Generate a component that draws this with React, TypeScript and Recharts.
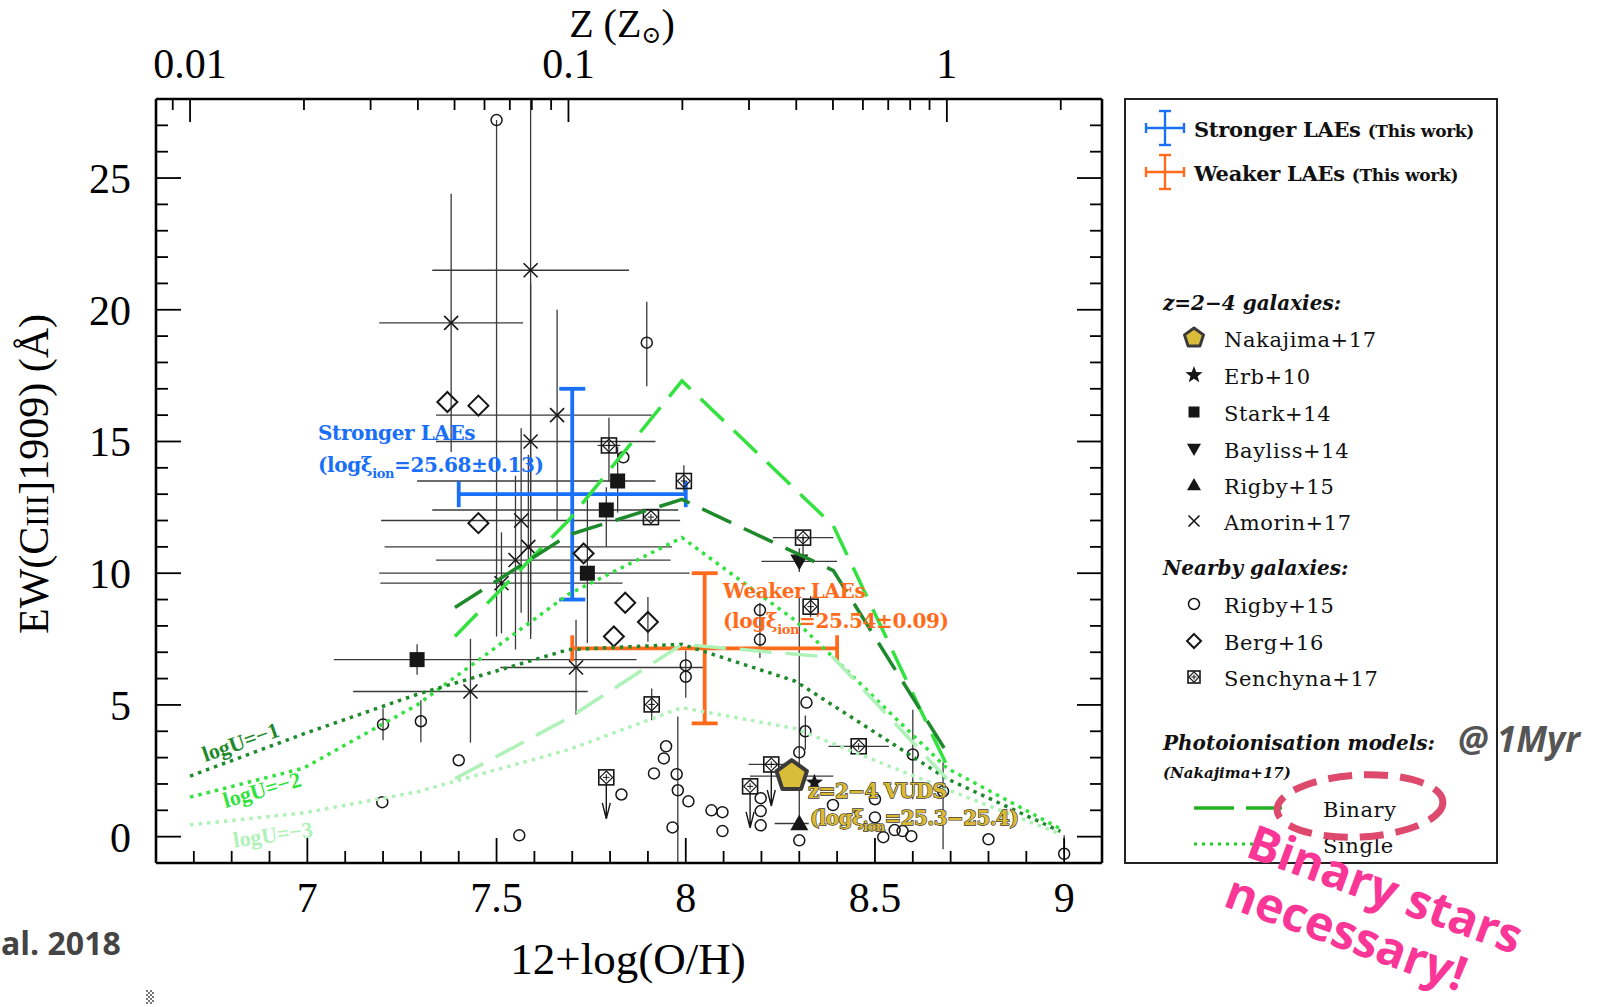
import { ComposedChart, Scatter, XAxis, YAxis, ErrorBar } from 'recharts';

const W = 1607;
const H = 1007;
// plot frame in page pixels; axis widths/heights below are derived from it
const FRAME = { left: 156, top: 99, right: 1102, bottom: 863 };

const SOLAR_OH = 8.69;
const OH_DOMAIN: [number, number] = [6.6, 9.1];
const EW_DOMAIN: [number, number] = [-1, 28];
const Z_DOMAIN: [number, number] = [10 ** (OH_DOMAIN[0] - SOLAR_OH), 10 ** (OH_DOMAIN[1] - SOLAR_OH)];

const OH_LABELS = [7, 7.5, 8, 8.5, 9];
const OH_TICKS = Array.from({ length: 24 }, (_, i) => Math.round((6.7 + i * 0.1) * 10) / 10);
const EW_LABELS = [0, 5, 10, 15, 20, 25];
const EW_TICKS = Array.from({ length: 28 }, (_, i) => i);
const Z_LABELS = [0.01, 0.1, 1];
const Z_TICKS = [
  0.009, 0.01, 0.02, 0.03, 0.04, 0.05, 0.06, 0.07, 0.08, 0.09,
  0.1, 0.2, 0.3, 0.4, 0.5, 0.6, 0.7, 0.8, 0.9, 1, 2,
];

type Err = [number, number];
type Pt = { x: number; y: number; ex?: Err; ey?: Err; limit?: boolean };

// this work: stacked LAE samples
const strongLAE: Pt[] = [{ x: 7.7, y: 13.0, ex: [0.3, 0.3], ey: [4.0, 4.0] }];
const weakLAE: Pt[] = [{ x: 8.05, y: 7.15, ex: [0.35, 0.35], ey: [2.85, 2.85] }];

// z=2-4 galaxies
const nakajima17: Pt[] = [{ x: 8.28, y: 2.3, ex: [0.11, 0.11] }];
const erb10: Pt[] = [{ x: 8.34, y: 2.05 }];
const stark14: Pt[] = [
  { x: 7.29, y: 6.72, ex: [0.22, 0.58], ey: [0.57, 0.58] },
  { x: 7.74, y: 10.0, ex: [0.55, 0.27], ey: [2.65, 2.8] },
  { x: 7.79, y: 12.4, ex: [0.46, 0.19], ey: [1.4, 0.86] },
  { x: 7.82, y: 13.5, ex: [0.53, 0.1], ey: [1.2, 1.3] },
];
const bayliss14: Pt[] = [{ x: 8.3, y: 10.45, ex: [0.1, 0.1], ey: [0.4, 0.5] }];
const rigby15hz: Pt[] = [{ x: 8.3, y: 0.5, ex: [0.065, 0.025] }];
const amorin17: Pt[] = [
  { x: 7.38, y: 19.5, ex: [0.19, 0.19], ey: [4.9, 4.9] },
  { x: 7.59, y: 21.5, ex: [0.26, 0.26], ey: [14.0, 6.5] },
  { x: 7.66, y: 16.0, ex: [0.32, 0.25], ey: [4.0, 4.0] },
  { x: 7.59, y: 15.0, ex: [0.25, 0.33], ey: [7.3, 6.0] },
  { x: 7.565, y: 12.0, ex: [0.37, 0.42], ey: [3.5, 3.5] },
  { x: 7.584, y: 11.0, ex: [0.38, 0.38], ey: [3.0, 3.5] },
  { x: 7.55, y: 10.5, ex: [0.21, 0.41], ey: [3.4, 3.2] },
  { x: 7.513, y: 9.62, ex: [0.32, 0.32], ey: [1.9, 1.93] },
  { x: 7.431, y: 5.51, ex: [0.31, 0.31], ey: [1.94, 2.0] },
  { x: 7.71, y: 6.42, ex: [0.2, 0.34], ey: [1.78, 1.81] },
];

// nearby galaxies
const rigby15: Pt[] = [
  { x: 7.5, y: 27.2, ey: [19.6, 0] },
  { x: 7.897, y: 18.75, ey: [1.65, 1.55] },
  { x: 7.835, y: 14.4 },
  { x: 8.0, y: 6.5 },
  { x: 8.0, y: 6.07, ey: [0.8, 1.0] },
  { x: 8.196, y: 7.48, ey: [0.7, 1.4] },
  { x: 8.196, y: 8.6 },
  { x: 8.319, y: 5.09 },
  { x: 8.316, y: 4.0, ey: [0.7, 0.6] },
  { x: 8.6, y: 3.12, ey: [1.7, 1.7] },
  { x: 8.8, y: -0.1 },
  { x: 8.68, y: 1.72, ey: [2.2, 1.1] },
  { x: 7.2, y: 4.26, ey: [0.6, 0.6] },
  { x: 7.3, y: 4.38, ey: [0.8, 0.8] },
  { x: 7.4, y: 2.9 },
  { x: 7.198, y: 1.31 },
  { x: 7.56, y: 0.05 },
  { x: 7.83, y: 1.6 },
  { x: 7.948, y: 3.43 },
  { x: 7.942, y: 2.97 },
  { x: 7.916, y: 2.4 },
  { x: 7.976, y: 2.37 },
  { x: 7.979, y: 1.76, ey: [2.8, 2.8] },
  { x: 8.007, y: 1.34 },
  { x: 7.965, y: 0.35 },
  { x: 8.068, y: 1.0 },
  { x: 8.097, y: 0.93 },
  { x: 8.097, y: 0.21 },
  { x: 8.198, y: 1.46 },
  { x: 8.198, y: 0.97 },
  { x: 8.198, y: 0.43 },
  { x: 8.3, y: 3.2, ey: [2.7, 5.9] },
  { x: 8.389, y: 1.2 },
  { x: 8.5, y: 1.42 },
  { x: 8.5, y: 0.73 },
  { x: 8.522, y: -0.02 },
  { x: 8.552, y: 0.25 },
  { x: 8.573, y: 0.21 },
  { x: 8.596, y: 0.02 },
  { x: 8.3, y: -0.14 },
  { x: 9.0, y: -0.65, ey: [0, 0.7] },
];
const berg16: Pt[] = [
  { x: 7.37, y: 16.5 },
  { x: 7.452, y: 16.36 },
  { x: 7.452, y: 11.9 },
  { x: 7.84, y: 8.88 },
  { x: 7.9, y: 8.15, ey: [0.75, 0.95] },
  { x: 7.81, y: 7.6 },
  { x: 7.73, y: 10.75 },
];
const senchyna17: Pt[] = [
  { x: 7.797, y: 14.85, ex: [0.03, 0.03], ey: [1.35, 1.05] },
  { x: 7.908, y: 12.13 },
  { x: 7.995, y: 13.5, ey: [0.4, 0.6] },
  { x: 8.31, y: 11.35, ex: [0.08, 0.08], ey: [0.9, 0] },
  { x: 8.33, y: 8.73, ey: [0.4, 0.4] },
  { x: 8.457, y: 3.43, ex: [0.08, 0.08] },
  { x: 7.91, y: 5.02, ey: [0.6, 0.6] },
  { x: 7.79, y: 2.25, limit: true },
  { x: 8.226, y: 2.74, ex: [0.06, 0.06], limit: true },
  { x: 8.17, y: 1.91, limit: true },
];

// Nakajima+17 photoionisation models, 1 Myr
const binaryU1 = [
  { x: 7.39, y: 8.7 }, { x: 7.69, y: 11.45 }, { x: 7.99, y: 12.8 }, { x: 8.39, y: 10.1 }, { x: 8.69, y: 3.2 },
];
const binaryU2 = [
  { x: 7.39, y: 7.6 }, { x: 7.69, y: 12.0 }, { x: 7.99, y: 17.3 }, { x: 8.39, y: 11.8 }, { x: 8.69, y: 2.7 },
];
const binaryU3 = [
  { x: 7.39, y: 2.2 }, { x: 7.69, y: 4.5 }, { x: 7.99, y: 7.3 }, { x: 8.39, y: 6.8 }, { x: 8.69, y: 2.2 },
];
const singleU1 = [
  { x: 6.69, y: 2.3 }, { x: 6.99, y: 3.9 }, { x: 7.29, y: 5.4 }, { x: 7.69, y: 7.1 },
  { x: 7.99, y: 7.3 }, { x: 8.29, y: 5.9 }, { x: 8.69, y: 2.2 }, { x: 8.99, y: 0.2 },
];
const singleU2 = [
  { x: 6.69, y: 1.5 }, { x: 6.99, y: 2.6 }, { x: 7.29, y: 5.0 }, { x: 7.69, y: 9.2 },
  { x: 7.99, y: 11.35 }, { x: 8.29, y: 8.2 }, { x: 8.69, y: 2.6 }, { x: 8.99, y: 0.3 },
];
const singleU3 = [
  { x: 6.69, y: 0.45 }, { x: 6.99, y: 0.9 }, { x: 7.29, y: 1.7 }, { x: 7.69, y: 3.3 },
  { x: 7.99, y: 4.9 }, { x: 8.29, y: 4.1 }, { x: 8.69, y: 1.8 }, { x: 8.99, y: 0.1 },
];

const DARK_GREEN = '#1f8a2c';
const GREEN = '#33e23f';
const PALE_GREEN = '#aef2b8';
const BLUE = '#1a6ff7';
const ORANGE = '#ff6b1a';
const INK = '#161616';
const ERR = '#3a3a3a';

const AXIS_FONT = '"Liberation Serif", "DejaVu Serif", serif';
const LEGEND_FONT = '"DejaVu Serif", "Liberation Serif", serif';
const SANS = '"Open Sans", "Noto Sans", sans-serif';

const withErr = (pts: Pt[]) =>
  pts.map((p) => ({ ...p, ex: p.ex ?? [0, 0], ey: p.ey ?? [0, 0] }));

// ---- markers ----
const Nothing = () => <g />;

function OpenCircle({ cx, cy, r = 5.5 }: any) {
  return <circle cx={cx} cy={cy} r={r} fill="none" stroke={INK} strokeWidth={1.5} />;
}

function Diamond({ cx, cy, s = 10 }: any) {
  return (
    <path
      d={`M${cx},${cy - s}L${cx + s},${cy}L${cx},${cy + s}L${cx - s},${cy}Z`}
      fill="none"
      stroke={INK}
      strokeWidth={2}
    />
  );
}

function BoxedDiamond({ cx, cy, payload, s = 7.5 }: any) {
  const d = s * 0.85;
  return (
    <g stroke={INK} fill="none">
      <rect x={cx - s} y={cy - s} width={2 * s} height={2 * s} strokeWidth={1.6} />
      <path d={`M${cx},${cy - d}L${cx + d},${cy}L${cx},${cy + d}L${cx - d},${cy}Z`} strokeWidth={1.2} />
      <path d={`M${cx - d * 0.5},${cy}H${cx + d * 0.5}M${cx},${cy - d * 0.5}V${cy + d * 0.5}`} strokeWidth={1} />
      {payload?.limit && (
        <path
          d={`M${cx},${cy + s}V${cy + s + 34}M${cx - 4},${cy + s + 18}L${cx},${cy + s + 34}L${cx + 4},${cy + s + 18}`}
          strokeWidth={1.4}
        />
      )}
    </g>
  );
}

function FilledSquare({ cx, cy, s = 7.5 }: any) {
  return <rect x={cx - s} y={cy - s} width={2 * s} height={2 * s} fill={INK} />;
}

function TriDown({ cx, cy, s = 9 }: any) {
  return <path d={`M${cx - s},${cy - s * 0.75}L${cx + s},${cy - s * 0.75}L${cx},${cy + s}Z`} fill={INK} />;
}

function TriUp({ cx, cy, s = 9 }: any) {
  return <path d={`M${cx - s},${cy + s * 0.75}L${cx + s},${cy + s * 0.75}L${cx},${cy - s}Z`} fill={INK} />;
}

function Cross({ cx, cy, s = 7 }: any) {
  return (
    <path
      d={`M${cx - s},${cy - s}L${cx + s},${cy + s}M${cx - s},${cy + s}L${cx + s},${cy - s}`}
      stroke={INK}
      strokeWidth={1.6}
    />
  );
}

function starPath(cx: number, cy: number, ro: number, ri: number) {
  const pts: string[] = [];
  for (let i = 0; i < 10; i++) {
    const r = i % 2 === 0 ? ro : ri;
    const a = -Math.PI / 2 + (i * Math.PI) / 5;
    pts.push(`${cx + r * Math.cos(a)},${cy + r * Math.sin(a)}`);
  }
  return `M${pts.join('L')}Z`;
}

function Star({ cx, cy, s = 9 }: any) {
  return <path d={starPath(cx, cy, s, s * 0.42)} fill={INK} />;
}

function Pentagon({ cx, cy, s = 16, w = 4 }: any) {
  const pts: string[] = [];
  for (let i = 0; i < 5; i++) {
    const a = -Math.PI / 2 + (i * 2 * Math.PI) / 5;
    pts.push(`${cx + s * Math.cos(a)},${cy + s * Math.sin(a)}`);
  }
  return <path d={`M${pts.join('L')}Z`} fill="#d9bc3a" stroke="#3a3a3a" strokeWidth={w} strokeLinejoin="round" />;
}

// ---- axis ticks (drawn inward, labels outside) ----
function OhTick({ x, payload }: any) {
  const v: number = payload.value;
  const major = Math.abs(v * 2 - Math.round(v * 2)) < 1e-6;
  return (
    <g>
      <line x1={x} x2={x} y1={FRAME.bottom} y2={FRAME.bottom - (major ? 25 : 12)} stroke="#000" strokeWidth={1.8} />
      {OH_LABELS.includes(v) && (
        <text x={x} y={912} textAnchor="middle" fontSize={42} fontFamily={AXIS_FONT} fill="#000">
          {v}
        </text>
      )}
    </g>
  );
}

function EwTick({ y, payload }: any) {
  const v: number = payload.value;
  const major = v % 5 === 0;
  return (
    <g>
      <line x1={FRAME.left} x2={FRAME.left + (major ? 25 : 12)} y1={y} y2={y} stroke="#000" strokeWidth={1.8} />
      {EW_LABELS.includes(v) && (
        <text x={131} y={y + 15} textAnchor="end" fontSize={42} fontFamily={AXIS_FONT} fill="#000">
          {v}
        </text>
      )}
    </g>
  );
}

function EwRightTick({ y, payload }: any) {
  const major = payload.value % 5 === 0;
  return <line x1={FRAME.right} x2={FRAME.right - (major ? 25 : 12)} y1={y} y2={y} stroke="#000" strokeWidth={1.8} />;
}

function ZTick({ x, payload }: any) {
  const v: number = payload.value;
  const major = Z_LABELS.includes(v);
  return (
    <g>
      <line x1={x} x2={x} y1={FRAME.top} y2={FRAME.top + (major ? 23 : 11)} stroke="#000" strokeWidth={1.8} />
      {major && (
        <text x={x} y={78} textAnchor="middle" fontSize={42} fontFamily={AXIS_FONT} fill="#000">
          {v}
        </text>
      )}
    </g>
  );
}

// ---- text drawn on top of the plot and the key ----
function Xi({ value, size }: { value: string; size: number }) {
  return (
    <>
      <tspan>(logξ</tspan>
      <tspan fontSize={size * 0.65} dy={size * 0.28}>ion</tspan>
      <tspan dy={-size * 0.28}>{value})</tspan>
    </>
  );
}

function LegendCross({ x, y, color }: { x: number; y: number; color: string }) {
  return (
    <g stroke={color} strokeWidth={2.4}>
      <line x1={x - 19} x2={x + 19} y1={y} y2={y} />
      <line x1={x} x2={x} y1={y - 17} y2={y + 17} />
      <line x1={x - 19} x2={x - 19} y1={y - 5} y2={y + 5} />
      <line x1={x + 19} x2={x + 19} y1={y - 5} y2={y + 5} />
      <line x1={x - 6} x2={x + 6} y1={y - 17} y2={y - 17} />
      <line x1={x - 6} x2={x + 6} y1={y + 17} y2={y + 17} />
    </g>
  );
}

const KEY_ROWS_HZ = [
  { y: 338, label: 'Nakajima+17', Mark: (p: any) => <Pentagon {...p} s={10} w={3} /> },
  { y: 375, label: 'Erb+10', Mark: (p: any) => <Star {...p} s={9} /> },
  { y: 412, label: 'Stark+14', Mark: (p: any) => <FilledSquare {...p} s={5.5} /> },
  { y: 449, label: 'Bayliss+14', Mark: (p: any) => <TriDown {...p} s={7} /> },
  { y: 485, label: 'Rigby+15', Mark: (p: any) => <TriUp {...p} s={7} /> },
  { y: 521, label: 'Amorin+17', Mark: (p: any) => <Cross {...p} s={5.5} /> },
];
const KEY_ROWS_LOCAL = [
  { y: 604, label: 'Rigby+15', Mark: (p: any) => <OpenCircle {...p} r={5.5} /> },
  { y: 641, label: 'Berg+16', Mark: (p: any) => <Diamond {...p} s={7} /> },
  { y: 677, label: 'Senchyna+17', Mark: (p: any) => <BoxedDiamond {...p} s={6} /> },
];

function Overlay() {
  const keyText = { fontFamily: LEGEND_FONT, fontSize: 21, fill: '#111', letterSpacing: 0.6 };
  return (
    <svg width={W} height={H} style={{ position: 'absolute', left: 0, top: 0, pointerEvents: 'none' }}>
      <defs>
        <pattern id="checker" width={4} height={4} patternUnits="userSpaceOnUse">
          <rect width={2} height={2} fill="#777" />
          <rect x={2} y={2} width={2} height={2} fill="#777" />
        </pattern>
      </defs>
      {/* axis titles */}
      <text x={628} y={974} textAnchor="middle" fontSize={45} fontFamily={AXIS_FONT}>
        12+log(O/H)
      </text>
      <text x={622} y={37} textAnchor="middle" fontSize={40} fontFamily={AXIS_FONT}>
        Z (Z<tspan fontSize={24} dy={6}>⊙</tspan>
        <tspan dy={-6}>)</tspan>
      </text>
      <text
        transform="translate(48,474) rotate(-90)"
        textAnchor="middle"
        fontSize={42}
        fontFamily={AXIS_FONT}
      >
        EW(C<tspan fontSize={32}>III</tspan>]1909)  (Å)
      </text>

      {/* in-plot annotations */}
      <g fontFamily={LEGEND_FONT} fontWeight="bold" fontSize={20} fill={BLUE} letterSpacing={-0.4}>
        <text x={318} y={440}>Stronger LAEs</text>
        <text x={318} y={472}>
          <Xi value="=25.68±0.13" size={20} />
        </text>
      </g>
      <g fontFamily={LEGEND_FONT} fontWeight="bold" fontSize={20} fill={ORANGE} letterSpacing={-0.4}>
        <text x={723} y={598}>Weaker LAEs</text>
        <text x={723} y={628}>
          <Xi value="=25.54±0.09" size={20} />
        </text>
      </g>
      <g
        fontFamily={LEGEND_FONT}
        fontWeight="bold"
        fontSize={20}
        fill="#dcbb30"
        stroke="#3a3a3a"
        strokeWidth={1.3}
        paintOrder="stroke"
        letterSpacing={-0.6}
      >
        <text x={808} y={798}>z=2−4 VUDS</text>
        <text x={810} y={825}>
          <Xi value="=25.3−25.4" size={20} />
        </text>
      </g>
      <g fontFamily={AXIS_FONT} fontWeight="bold" fontSize={22}>
        <text transform="translate(243,749) rotate(-19)" textAnchor="middle" fill={DARK_GREEN}>logU=−1</text>
        <text transform="translate(264,797) rotate(-16)" textAnchor="middle" fill={GREEN}>logU=−2</text>
        <text transform="translate(274,842) rotate(-8)" textAnchor="middle" fill={PALE_GREEN}>logU=−3</text>
      </g>

      {/* key */}
      <rect x={1125} y={99} width={372} height={764} fill="none" stroke="#222" strokeWidth={2} />
      <LegendCross x={1165} y={128} color={BLUE} />
      <text x={1194} y={137} {...keyText} fontWeight="bold" letterSpacing={-0.3}>
        Stronger LAEs <tspan fontSize={17}>(This work)</tspan>
      </text>
      <LegendCross x={1165} y={172} color={ORANGE} />
      <text x={1194} y={181} {...keyText} fontWeight="bold" letterSpacing={-0.3}>
        Weaker LAEs <tspan fontSize={17}>(This work)</tspan>
      </text>

      <text x={1163} y={310} {...keyText} fontStyle="italic" fontWeight="bold" fontSize={20} letterSpacing={0}>
        z=2−4 galaxies:
      </text>
      {KEY_ROWS_HZ.map(({ y, label, Mark }) => (
        <g key={label + y}>
          <Mark cx={1194} cy={y} />
          <text x={1224} y={y + 9} {...keyText}>{label}</text>
        </g>
      ))}
      <text x={1163} y={575} {...keyText} fontStyle="italic" fontWeight="bold" fontSize={20} letterSpacing={0}>
        Nearby galaxies:
      </text>
      {KEY_ROWS_LOCAL.map(({ y, label, Mark }) => (
        <g key={label + y}>
          <Mark cx={1194} cy={y} />
          <text x={1224} y={y + 9} {...keyText}>{label}</text>
        </g>
      ))}
      <text x={1163} y={750} {...keyText} fontStyle="italic" fontWeight="bold" fontSize={20} letterSpacing={0}>
        Photoionisation models:
      </text>
      <text x={1163} y={778} {...keyText} fontStyle="italic" fontWeight="bold" fontSize={15} letterSpacing={0}>
        (Nakajima+17)
      </text>
      <line x1={1194} x2={1282} y1={808} y2={808} stroke="#22b022" strokeWidth={3.5} strokeDasharray="40 12" />
      <text x={1323} y={817} {...keyText}>Binary</text>
      <line x1={1194} x2={1282} y1={844} y2={844} stroke="#22cc22" strokeWidth={3} strokeDasharray="3 5" />
      <text x={1323} y={853} {...keyText}>Single</text>

      {/* slide callouts */}
      <text x={1458} y={752} fontFamily={SANS} fontWeight="bold" fontStyle="italic" fontSize={35} fill="#555">
        @ 1Myr
      </text>
      <ellipse
        cx={1360}
        cy={806}
        rx={83}
        ry={31}
        fill="none"
        stroke="#de4a6e"
        strokeWidth={7}
        strokeDasharray="24 12"
        transform="rotate(-3 1360 806)"
      />
      <g
        transform="translate(1244,856) rotate(20)"
        fontFamily={SANS}
        fontWeight="bold"
        fontSize={48}
        fill="#fa3797"
      >
        <text x={0} y={0}>Binary stars</text>
        <text x={-4} y={54}>necessary!</text>
      </g>
      <text x={1} y={955} fontFamily={SANS} fontWeight="bold" fontSize={32} fill="#444">
        al. 2018
      </text>
      <rect x={146} y={990} width={8} height={14} fill="url(#checker)" />
    </svg>
  );
}

export default function App() {
  const model = (data: any[], color: string, dash: string, width: number, key: string) => (
    <Scatter
      key={key}
      xAxisId="oh"
      yAxisId="ew"
      data={data}
      dataKey="y"
      shape={Nothing}
      line={{ stroke: color, strokeWidth: width, strokeDasharray: dash, fill: 'none' }}
      lineType="joint"
      isAnimationActive={false}
    />
  );
  const blackErr = (
    <>
      <ErrorBar dataKey="ex" direction="x" width={0} stroke={ERR} strokeWidth={1.3} />
      <ErrorBar dataKey="ey" direction="y" width={0} stroke={ERR} strokeWidth={1.3} />
    </>
  );

  return (
    <div style={{ position: 'fixed', left: 0, top: 0, width: W, height: H, background: '#fff', overflow: 'hidden' }}>
      <ComposedChart width={W} height={H} margin={{ top: 0, right: 0, bottom: 0, left: 0 }}>
        <XAxis
          xAxisId="oh"
          type="number"
          dataKey="x"
          domain={OH_DOMAIN}
          allowDataOverflow
          ticks={OH_TICKS}
          interval={0}
          tick={(p: any) => <OhTick {...p} />}
          tickLine={false}
          axisLine={{ stroke: '#000', strokeWidth: 2.6 }}
          height={H - FRAME.bottom}
        />
        <XAxis
          xAxisId="z"
          orientation="top"
          type="number"
          scale="log"
          dataKey="z"
          domain={Z_DOMAIN}
          allowDataOverflow
          ticks={Z_TICKS}
          interval={0}
          tick={(p: any) => <ZTick {...p} />}
          tickLine={false}
          axisLine={{ stroke: '#000', strokeWidth: 2.6 }}
          height={FRAME.top}
        />
        <YAxis
          yAxisId="ew"
          type="number"
          dataKey="y"
          domain={EW_DOMAIN}
          allowDataOverflow
          ticks={EW_TICKS}
          interval={0}
          tick={(p: any) => <EwTick {...p} />}
          tickLine={false}
          axisLine={{ stroke: '#000', strokeWidth: 2.6 }}
          width={FRAME.left}
        />
        <YAxis
          yAxisId="ewR"
          orientation="right"
          type="number"
          dataKey="y"
          domain={EW_DOMAIN}
          allowDataOverflow
          ticks={EW_TICKS}
          interval={0}
          tick={(p: any) => <EwRightTick {...p} />}
          tickLine={false}
          axisLine={{ stroke: '#000', strokeWidth: 2.6 }}
          width={W - FRAME.right}
        />
        <Scatter xAxisId="z" yAxisId="ewR" data={[]} dataKey="y" shape={Nothing} isAnimationActive={false} />

        {/* literature points */}
        <Scatter xAxisId="oh" yAxisId="ew" data={withErr(rigby15)} dataKey="y" shape={OpenCircle} isAnimationActive={false}>
          {blackErr}
        </Scatter>
        <Scatter xAxisId="oh" yAxisId="ew" data={withErr(amorin17)} dataKey="y" shape={Cross} isAnimationActive={false}>
          {blackErr}
        </Scatter>
        <Scatter xAxisId="oh" yAxisId="ew" data={withErr(berg16)} dataKey="y" shape={Diamond} isAnimationActive={false}>
          {blackErr}
        </Scatter>
        <Scatter xAxisId="oh" yAxisId="ew" data={withErr(senchyna17)} dataKey="y" shape={BoxedDiamond} isAnimationActive={false}>
          {blackErr}
        </Scatter>
        <Scatter xAxisId="oh" yAxisId="ew" data={withErr(stark14)} dataKey="y" shape={FilledSquare} isAnimationActive={false}>
          {blackErr}
        </Scatter>
        <Scatter xAxisId="oh" yAxisId="ew" data={withErr(bayliss14)} dataKey="y" shape={TriDown} isAnimationActive={false}>
          {blackErr}
        </Scatter>
        <Scatter xAxisId="oh" yAxisId="ew" data={withErr(rigby15hz)} dataKey="y" shape={TriUp} isAnimationActive={false}>
          {blackErr}
        </Scatter>
        <Scatter xAxisId="oh" yAxisId="ew" data={withErr(erb10)} dataKey="y" shape={Star} isAnimationActive={false} />

        {/* photoionisation models */}
        {model(singleU3, PALE_GREEN, '3.5 5', 3.5, 's3')}
        {model(singleU2, GREEN, '3.5 5', 3.5, 's2')}
        {model(singleU1, DARK_GREEN, '3.5 5', 3.5, 's1')}
        {model(binaryU3, PALE_GREEN, '32 14', 3.5, 'b3')}
        {model(binaryU2, GREEN, '32 14', 3.5, 'b2')}
        {model(binaryU1, DARK_GREEN, '32 14', 3.5, 'b1')}

        {/* this work */}
        <Scatter xAxisId="oh" yAxisId="ew" data={withErr(strongLAE)} dataKey="y" shape={Nothing} isAnimationActive={false}>
          <ErrorBar dataKey="ex" direction="x" width={13} stroke={BLUE} strokeWidth={3.8} />
          <ErrorBar dataKey="ey" direction="y" width={13} stroke={BLUE} strokeWidth={3.8} />
        </Scatter>
        <Scatter xAxisId="oh" yAxisId="ew" data={withErr(weakLAE)} dataKey="y" shape={Nothing} isAnimationActive={false}>
          <ErrorBar dataKey="ex" direction="x" width={13} stroke={ORANGE} strokeWidth={3.8} />
          <ErrorBar dataKey="ey" direction="y" width={13} stroke={ORANGE} strokeWidth={3.8} />
        </Scatter>
        <Scatter xAxisId="oh" yAxisId="ew" data={withErr(nakajima17)} dataKey="y" shape={Pentagon} isAnimationActive={false}>
          <ErrorBar dataKey="ex" direction="x" width={0} stroke={ERR} strokeWidth={1.3} />
        </Scatter>
      </ComposedChart>
      <Overlay />
    </div>
  );
}
